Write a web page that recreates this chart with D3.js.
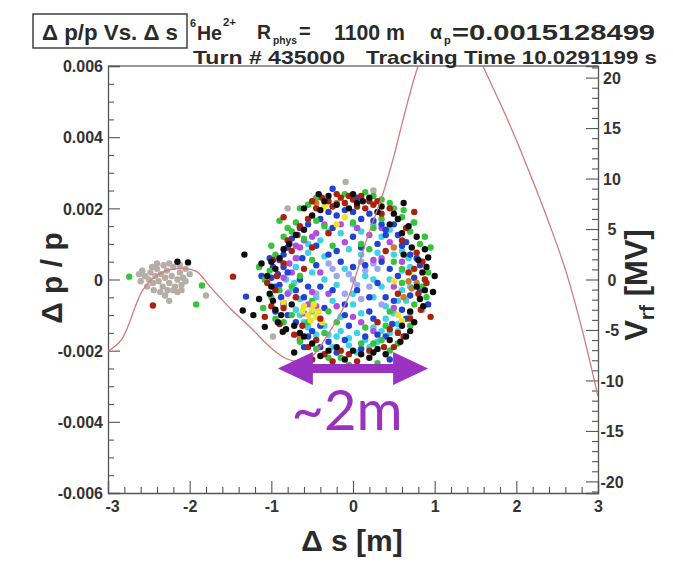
<!DOCTYPE html>
<html><head><meta charset="utf-8">
<script src="https://cdn.jsdelivr.net/npm/d3@7"></script>
<style>body{margin:0;background:#fff}svg{display:block}</style>
</head><body>
<svg id="chart" width="673" height="566"></svg>
<script>
// ---------- DATA ----------
const sTicks = [-3, -2, -1, 0, 1, 2, 3];
const sTickLabels = ["-3", "-2", "-1", "0", "1", "2", "3"];
const dpTicks = [-0.006, -0.004, -0.002, 0, 0.002, 0.004, 0.006];
const dpTickLabels = ["-0.006", "-0.004", "-0.002", "0", "0.002", "0.004", "0.006"];
const vTicks = [-20, -15, -10, -5, 0, 5, 10, 15, 20];
const vTickLabels = ["-20", "-15", "-10", "-5", "0", "5", "10", "15", "20"];

// RF voltage curve: s [m], V [MV]
const rfS = [-3.0, -2.83, -2.57, -2.36, -2.12, -1.92, -1.75, -1.5, -1.26, -1.0, -0.8, -0.65, -0.5, -0.32, -0.07, 0.17, 0.37, 0.49, 0.65, 0.8, 1.0, 1.2, 1.4, 1.6, 1.8, 2.0, 2.2, 2.4, 2.6, 2.8, 3.0];
const rfV = [-7.1, -5.9, -1.0, 0.6, 1.1, 0.8, -0.7, -2.9, -4.7, -6.8, -7.9, -8.1, -7.6, -5.6, -2.0, 4.0, 8.6, 11.9, 17.0, 21.2, 25.0, 26.5, 25.0, 21.0, 17.5, 13.8, 9.8, 5.6, 1.0, -4.8, -11.6];

// particles: [s (m), dp/p in units of 1e-3]
const greyPts = [[-2.55,0.1],[-2.5,0.0],[-2.48,0.2],[-2.45,-0.1],[-2.42,0.1],[-2.4,0.3],[-2.38,-0.05],[-2.35,0.15],[-2.33,-0.2],[-2.3,0.05],[-2.28,0.25],[-2.25,-0.1],[-2.22,0.1],[-2.2,0.35],[-2.18,-0.2],[-2.15,0.0],[-2.12,0.2],[-2.1,-0.15],[-2.08,0.05],[-2.05,0.3],[-2.6,-0.05],[-2.52,-0.2],[-2.44,-0.3],[-2.36,-0.35],[-2.27,-0.3],[-2.2,-0.3],[-2.32,0.4],[-2.4,0.45],[-2.25,0.45],[-2.15,-0.35],[-2.05,-0.05],[-2.0,0.15],[-2.58,0.25],[-2.46,0.35],[-2.3,-0.45],[-2.12,0.4],[-2.62,0.15],[-2.1,-0.3],[-2.25,-0.6],[-1.8,-0.45],[-0.09,2.74],[-0.8,2.0],[0.74,1.6],[0.85,-0.85],[0.25,2.5],[-0.98,-1.6]];
const cyanPts = [[-0.5,-0.9],[-0.35,-1.3],[-0.15,-1.45],[0.05,-1.5],[0.25,-1.35],[0.4,-1.1],[0.55,-0.6],[0.6,-0.3],[0.6,0.25],[0.5,0.7],[0.35,1.2],[0.1,1.35],[-0.15,1.3],[-0.4,1.1],[-0.55,0.75],[-0.7,0.35],[-0.72,-0.1],[-0.65,-0.55],[-0.25,-0.6],[0.0,-0.7],[0.25,-0.5],[0.15,0.1],[-0.1,0.3],[-0.35,0.0],[0.1,0.7],[0.35,-0.2],[0.45,-1.5],[0.2,-1.9],[-0.2,-1.6],[-0.45,-1.55],[0.7,-0.95],[0.68,0.6],[0.3,-1.75],[-0.05,-1.85],[0.55,-1.25],[-0.6,-1.2],
  [-0.55,-1.35],[-0.3,-1.55],[-0.05,-1.65],[0.15,-1.7],[0.35,-1.45],[0.5,-0.95],[0.65,-0.6],[0.7,-0.2],[0.7,0.35],[0.6,0.8],[0.45,1.4],[0.25,1.55],[0.0,1.55],[-0.3,1.35],[-0.55,1.0],[-0.68,0.6],[-0.82,0.0],[-0.78,-0.35],[-0.7,-0.85],[-0.15,-1.05],[0.1,-0.95],[0.4,-0.75],[0.45,0.0],[0.3,0.75],[-0.05,0.85],[-0.35,0.65],[-0.5,0.2],[-0.45,-0.5],[0.0,-0.4],[0.25,0.0],[-0.2,-0.15],[0.05,-2.05],[-0.25,-1.9],[0.55,-1.45],[-0.65,-1.0]];
const lavenderPts = [[0.0,0.0],[0.2,-0.2],[-0.2,0.1],[0.1,0.5],[-0.1,-0.4],[0.3,0.3],[-0.3,0.45],[0.35,-0.7],[-0.45,-0.4],[0.15,0.25],[-0.05,0.15],[0.05,-0.15],[0.25,0.45],[-0.25,0.3],[0.1,-0.55]];
const magentaPts = [[-0.6,1.1],[-0.45,1.3],[-0.7,0.6],[-0.75,0.2],[-0.8,-0.4],[-0.6,-0.95],[-0.4,0.2],[-0.3,-0.4],[0.1,-1.2],[0.35,0.6],[0.5,-0.2],[0.45,1.05],[-0.15,1.55],[0.2,1.25],[-0.5,-0.35],[-0.85,0.05],[-0.65,0.9],[-0.55,-0.7],
  [-0.7,0.95],[-0.5,1.2],[-0.78,0.45],[-0.85,-0.65],[-0.45,-0.75],[-0.2,-0.75],[0.0,-1.05],[0.25,-1.45],[0.5,-0.8],[0.6,0.5],[0.25,0.55],[-0.1,1.05],[0.05,1.45],[-0.35,1.55],[0.35,1.45]];
const bluePts = [[-0.98,0.35],[-1.0,0.05],[-0.92,0.15],[-0.88,-0.5],[-0.7,-0.3],[-0.8,0.9],[-0.65,1.45],[-0.4,1.7],[-0.2,1.8],[0.0,1.9],[0.1,1.7],[0.25,1.65],[0.4,1.4],[0.55,1.25],[0.7,0.7],[0.75,0.05],[0.7,-0.45],[0.6,-0.85],[0.48,-1.25],[0.3,-1.55],[0.15,-1.6],[-0.1,-1.7],[-0.3,-1.75],[-0.5,-1.45],[-0.7,-1.2],[-0.65,-1.7],[-0.6,-1.9],[-0.45,0.4],[-0.3,0.7],[0.0,1.2],[0.3,1.0],[0.45,0.3],[0.4,-0.5],[0.2,-0.9],[-0.1,-1.0],[-0.35,-0.8],[-0.55,-0.2],[-0.15,0.5],[0.15,0.4],[0.05,-0.3],[-0.25,-0.3],[0.3,-0.1],[-0.85,0.35],[-0.62,0.6],[0.6,0.95],[0.82,0.4],[-0.95,-0.9],[-1.31,-0.48],[-0.9,0.55],[0.05,2.3],
  [-1.02,0.6],[-0.95,-0.2],[-0.85,-0.7],[-0.8,0.2],[-0.75,1.15],[-0.55,1.55],[-0.3,1.9],[-0.1,1.95],[0.2,1.85],[0.35,1.55],[0.5,1.55],[0.65,1.05],[0.78,0.6],[0.82,-0.3],[0.65,-1.1],[0.4,-1.6],[0.1,-1.95],[-0.2,-2.05],[-0.4,-1.9],[-0.55,-1.6],[-0.8,-1.0],[-0.6,-0.5],[-0.4,-0.2],[-0.2,0.8],[0.1,0.9],[0.35,0.5],[0.5,-0.6],[0.25,-1.1],[-0.05,-1.3],[-0.4,-1.3],[-0.65,0.0],[-0.45,0.95],[0.0,0.35],[0.2,-0.5],[-0.1,-0.7],[0.55,0.1],[-0.25,1.45],[0.4,1.25],[-0.85,0.7],[-0.9,-0.15],
  [-1.12,0.1],[0.92,-0.7],[-0.25,2.55],[0.45,-2.25]];
const greenPts = [[-0.7,1.6],[-0.55,2.1],[0.15,2.45],[0.35,2.25],[0.5,2.0],[0.6,1.75],[0.7,1.35],[0.82,1.0],[0.85,-0.2],[0.75,-0.7],[0.55,-1.8],[0.35,-1.7],[0.1,-1.8],[-0.15,-2.2],[-0.35,-1.5],[-0.55,-1.2],[-0.75,-1.0],[-0.9,-0.3],[-1.02,0.25],[-0.95,0.7],[-0.85,1.2],[-0.6,1.15],[-0.35,1.5],[0.0,1.6],[0.25,1.45],[0.5,0.5],[0.6,-0.1],[0.45,-0.9],[0.15,-1.35],[-0.2,-1.2],[-0.5,-0.6],[-0.65,0.1],[-0.5,0.55],[-0.25,0.95],[0.2,0.85],[-0.95,-1.1],[-2.74,0.08],[-1.85,-0.17],[-1.92,-0.7],[-0.8,1.45],
  [-0.45,2.3],[-0.1,2.4],[0.25,2.35],[0.45,2.15],[0.62,1.95],[0.75,1.6],[0.88,1.2],[0.92,0.2],[0.9,-0.5],[0.7,-1.3],[0.45,-2.0],[0.25,-1.8],[-0.05,-2.4],[-0.3,-2.2],[-0.45,-1.95],[-0.65,-1.75],[-0.85,-1.2],[-1.0,-0.5],[-1.08,0.0],[-1.0,0.95],[-0.75,1.35],[-0.45,1.65],[0.35,1.7],[0.6,0.3],[0.4,-1.3],[-0.75,-0.2],[-0.3,-0.9],[0.1,1.0],[-1.15,0.35],[-0.65,2.0],
  [-1.1,-0.8],[0.95,0.9],[-0.9,1.65],[0.3,-2.35]];
const yellowPts = [[-0.55,-1.0],[-0.5,-0.85],[-0.45,-1.05],[-0.6,-0.75],[-0.42,-0.9],[-0.1,1.75],[-0.2,1.55],[0.5,-0.05],[0.55,-1.0],[0.7,0.2],[-0.85,-0.65],[-0.55,1.7],[-0.52,-1.15],[-0.62,-0.9],[-0.48,-0.7],[-0.38,-1.2],[0.6,-1.15],[-0.35,2.05]];
const orangePts = [[0.72,-0.25],[0.68,-0.05],[-0.2,2.15],[0.5,0.9],[-0.65,-1.6],[0.78,-0.1],[-0.45,2.15],[0.62,-0.5]];
const redPts = [[-0.3,2.2],[-0.25,2.05],[-0.15,2.3],[-0.1,2.15],[0.0,2.25],[0.05,2.05],[0.15,2.0],[0.25,2.1],[0.35,1.85],[-0.45,2.0],[-0.55,1.7],[-0.68,1.25],[0.6,1.1],[0.75,0.3],[0.8,-0.4],[0.88,0.0],[0.7,-1.1],[0.55,-1.5],[0.5,-1.9],[0.2,-2.0],[-0.05,-2.1],[-0.25,-2.3],[-0.45,-1.7],[-0.62,-1.3],[-0.85,-0.8],[-0.95,-0.3],[-0.93,0.1],[-0.85,0.45],[-0.75,0.8],[-1.08,-1.05],[-0.5,0.9],[0.4,0.8],[-0.4,-1.1],[0.3,-1.2],[-0.6,0.3],[0.55,-0.4],[-2.45,-0.73],[-1.47,0.08],
  [-0.38,2.3],[-0.2,2.4],[0.1,2.35],[0.3,2.2],[0.45,2.0],[-0.05,2.35],[0.2,2.2],[-0.5,2.2],[-0.65,1.5],[-0.8,1.1],[0.65,1.45],[0.78,0.75],[0.85,0.5],[0.9,-0.1],[0.83,-0.85],[0.62,-1.6],[0.38,-1.9],[0.05,-2.3],[-0.15,-2.0],[-0.35,-2.1],[-0.55,-1.9],[-0.72,-1.55],[-0.9,-1.25],[-1.0,-0.75],[-1.05,-0.1],[-0.98,0.55],[0.68,0.2],[-0.7,-0.5],[0.45,-1.4],[-0.3,1.3],
  [-0.85,1.75],[0.95,-1.05],[-0.5,-2.25],[0.75,1.9]];
const blackPts = [[-0.42,2.4],[-0.2,2.1],[-0.05,2.0],[0.12,2.2],[0.3,1.9],[0.45,1.55],[0.6,1.3],[0.72,0.9],[0.8,0.55],[0.92,0.62],[0.85,0.2],[0.78,-0.2],[0.82,-0.55],[0.7,-0.9],[0.6,-1.3],[0.45,-1.7],[0.3,-1.95],[0.1,-2.1],[-0.1,-2.25],[-0.3,-2.0],[-0.5,-1.8],[-0.65,-1.5],[-0.82,-1.4],[-0.88,-1.0],[-0.98,-0.6],[-1.0,-0.2],[-0.95,0.3],[-0.9,0.6],[-0.78,1.0],[-0.6,1.4],[-0.5,1.8],[-0.35,2.2],[0.2,2.3],[0.55,1.7],[0.65,-1.6],[-0.75,-0.7],[-1.22,-1.0],[-1.08,-1.33],[-0.86,-1.47],[0.4,-2.1],[-0.2,-1.9],[-2.15,0.5],[-2.02,0.48],[-1.33,0.7],[-1.35,-0.87],
  [-0.6,2.0],[-0.3,2.35],[0.0,2.4],[0.35,2.05],[0.5,1.85],[0.68,1.5],[0.78,1.2],[0.88,0.85],[0.9,0.35],[0.88,-0.3],[0.86,-0.75],[0.75,-1.2],[0.58,-1.75],[0.2,-2.2],[0.0,-2.0],[-0.4,-2.15],[-0.6,-1.6],[-0.72,-1.3],[-0.95,-0.85],[-1.02,-0.4],[-1.05,0.1],[-1.0,0.5],[-0.85,0.85],[-0.7,1.25],[-0.4,1.95],[0.05,2.15],[0.62,0.7],[-0.92,-1.2],[0.7,-1.45],[0.25,-2.05],
  [-1.12,0.45],[0.98,-0.35],[-0.72,-2.05],[0.62,2.15],[1.0,0.1],[-1.15,-0.55]];

// annotation: bunch length arrow (s from, s to, dp/p level) and label
const arrowS = [-0.92, 0.92];
const arrowDp = -0.0025;
const arrowLabel = "~2m";

// ---------- DRAW ----------
const svg = d3.select("#chart");
const W = 673, H = 566;
const L = 108, R = 598, T = 66, B = 493;
const x = d3.scaleLinear().domain([-3, 3]).range([L, R]);
const y = d3.scaleLinear().domain([-0.006, 0.006]).range([B, T]);
const yV = d3.scaleLinear().domain([-21.15, 21.15]).range([B, T]);

const FONT = "'Liberation Sans', Arial, Helvetica, sans-serif";
const axisCol = "#555";
const txtCol = "#2a2a2a";

svg.append("rect").attr("width", W).attr("height", H).attr("fill", "#fff");

svg.append("defs").append("clipPath").attr("id", "frameClip")
  .append("rect").attr("x", L).attr("y", T).attr("width", R - L).attr("height", B - T);

const blur = svg.select("defs").append("filter").attr("id", "soft")
  .attr("x", "-20%").attr("y", "-20%").attr("width", "140%").attr("height", "140%");
blur.append("feGaussianBlur").attr("stdDeviation", 0.5);

// frame top line
svg.append("line").attr("x1", L).attr("x2", R).attr("y1", T).attr("y2", T)
  .attr("stroke", "#333").attr("stroke-width", 1.2);

function styleAxis(g) {
  g.selectAll("path.domain").attr("stroke", axisCol).attr("stroke-width", 1.3);
  g.selectAll(".tick line").attr("stroke", axisCol).attr("stroke-width", 1.1);
  g.selectAll(".tick text").attr("font-family", FONT).attr("font-weight", "bold")
    .attr("font-size", 16).attr("fill", "#333");
}

// minor tick values
const sMinor = d3.range(-30, 31, 2).map(v => v / 10).filter(v => !sTicks.includes(v));
const dpMinor = d3.range(-12, 13).map(v => v * 0.0005).filter(v => Math.abs((v / 0.002) - Math.round(v / 0.002)) > 1e-6);
const vMinor = d3.range(-21, 22).filter(v => v % 5 !== 0);

// left axis
const gl = svg.append("g").attr("transform", `translate(${L},0)`)
  .call(d3.axisLeft(y).tickValues(dpTicks).tickFormat((d, i) => dpTickLabels[i]).tickSize(-12).tickPadding(5));
styleAxis(gl);
gl.selectAll(".tick text").attr("dy", "0.36em");
const glm = svg.append("g").attr("transform", `translate(${L},0)`)
  .call(d3.axisLeft(y).tickValues(dpMinor).tickFormat("").tickSize(-6));
glm.select("path.domain").remove();
styleAxis(glm);

// bottom axis
const gb = svg.append("g").attr("transform", `translate(0,${B})`)
  .call(d3.axisBottom(x).tickValues(sTicks).tickFormat((d, i) => sTickLabels[i]).tickSize(-12).tickPadding(8));
styleAxis(gb);
gb.selectAll(".tick text").filter(d => d === -3).attr("dx", 4);
const gbm = svg.append("g").attr("transform", `translate(0,${B})`)
  .call(d3.axisBottom(x).tickValues(sMinor).tickFormat("").tickSize(-6));
gbm.select("path.domain").remove();
styleAxis(gbm);

// right axis (V_rf)
const gr = svg.append("g").attr("transform", `translate(${R},0)`)
  .call(d3.axisRight(yV).tickValues(vTicks).tickFormat((d, i) => vTickLabels[i]).tickSize(-12).tickPadding(14));
styleAxis(gr);
gr.selectAll(".tick text").attr("text-anchor", "middle").attr("dy", "0.36em");
const grm = svg.append("g").attr("transform", `translate(${R},0)`)
  .call(d3.axisRight(yV).tickValues(vMinor).tickFormat("").tickSize(-6));
grm.select("path.domain").remove();
styleAxis(grm);

// plot group clipped
const plot = svg.append("g").attr("clip-path", "url(#frameClip)");

// particles
const groups = [
  [greyPts, "#b5aea6"],
  [cyanPts, "#3cd2e6"],
  [lavenderPts, "#9aa6f0"],
  [magentaPts, "#b24ee0"],
  [bluePts, "#2343d2"],
  [greenPts, "#36c43a"],
  [yellowPts, "#f0e22a"],
  [orangePts, "#d07a2c"],
  [redPts, "#a8200f"],
  [blackPts, "#111"]
];
const pg = plot.append("g").attr("filter", "url(#soft)");
groups.forEach(([pts, col]) => {
  pg.append("g").selectAll("circle").data(pts).join("circle")
    .attr("cx", d => x(d[0])).attr("cy", d => y(d[1] / 1000))
    .attr("r", 3.2).attr("fill", col);
});

// RF curve
const rfData = rfS.map((s, i) => [s, rfV[i]]);
plot.append("path").datum(rfData)
  .attr("d", d3.line().x(d => x(d[0])).y(d => yV(d[1])).curve(d3.curveCatmullRom.alpha(0.5)))
  .attr("fill", "none").attr("stroke", "#d27b7b").attr("stroke-width", 1.3);

// axis titles
svg.append("text").attr("transform", `translate(62,278) rotate(-90)`)
  .attr("text-anchor", "middle").attr("font-family", FONT).attr("font-weight", "bold")
  .attr("font-size", 30).attr("fill", txtCol).text("Δ p / p");

svg.append("text").attr("x", 352).attr("y", 551)
  .attr("text-anchor", "middle").attr("font-family", FONT).attr("font-weight", "bold")
  .attr("font-size", 30).attr("fill", txtCol).text("Δ s [m]");

const vt = svg.append("text").attr("transform", `translate(647,285) rotate(-90)`)
  .attr("text-anchor", "middle").attr("font-family", FONT).attr("font-weight", "bold")
  .attr("font-size", 31).attr("fill", txtCol);
vt.append("tspan").text("V");
vt.append("tspan").attr("font-size", 21).attr("dy", 7).text("rf");
vt.append("tspan").attr("dy", -7).text(" [MV]");

// header
svg.append("rect").attr("x", 33).attr("y", 14).attr("width", 154).attr("height", 34)
  .attr("fill", "#fff").attr("stroke", "#333").attr("stroke-width", 1.4);
const hdr = (tx, ty, str, size, len) => {
  const t = svg.append("text").attr("x", tx).attr("y", ty).attr("font-family", FONT)
    .attr("font-weight", "bold").attr("font-size", size).attr("fill", txtCol).text(str);
  if (len) t.attr("textLength", len).attr("lengthAdjust", "spacingAndGlyphs");
  return t;
};
hdr(42, 40, "Δ p/p Vs. Δ s", 22, 136);
hdr(190, 27, "6", 11);
hdr(197, 40, "He", 21, 25);
hdr(223, 26, "2+", 11, 13);
hdr(257, 39, "R", 21, 14);
hdr(273, 44, "phys", 11, 24);
hdr(299, 38, "=", 20);
hdr(334, 40, "1100 m", 22, 71);
hdr(430, 39, "α", 21, 12);
hdr(444, 44, "p", 11);
hdr(452, 40, "=0.0015128499", 22, 203);
hdr(193, 64, "Turn # 435000", 19, 152);
hdr(366, 64, "Tracking Time 10.0291199 s", 19, 291);

// annotation arrow
const ax0 = x(arrowS[0]), ax1 = x(arrowS[1]), ay = y(arrowDp);
const headL = 35, headH = 16.5, shaftH = 4.5;
const arrowPts = [
  [ax0, ay], [ax0 + headL, ay - headH], [ax0 + headL, ay - shaftH],
  [ax1 - headL, ay - shaftH], [ax1 - headL, ay - headH], [ax1, ay],
  [ax1 - headL, ay + headH], [ax1 - headL, ay + shaftH],
  [ax0 + headL, ay + shaftH], [ax0 + headL, ay + headH]
];
svg.append("path").attr("d", d3.line()(arrowPts) + "Z").attr("fill", "#9a31c0");
svg.append("text").attr("x", (ax0 + ax1) / 2 - 6).attr("y", 430).attr("text-anchor", "middle")
  .attr("font-family", "Lato, 'Open Sans', sans-serif").attr("font-size", 56)
  .attr("fill", "#9a31c0").text(arrowLabel);
</script>
</body></html>
